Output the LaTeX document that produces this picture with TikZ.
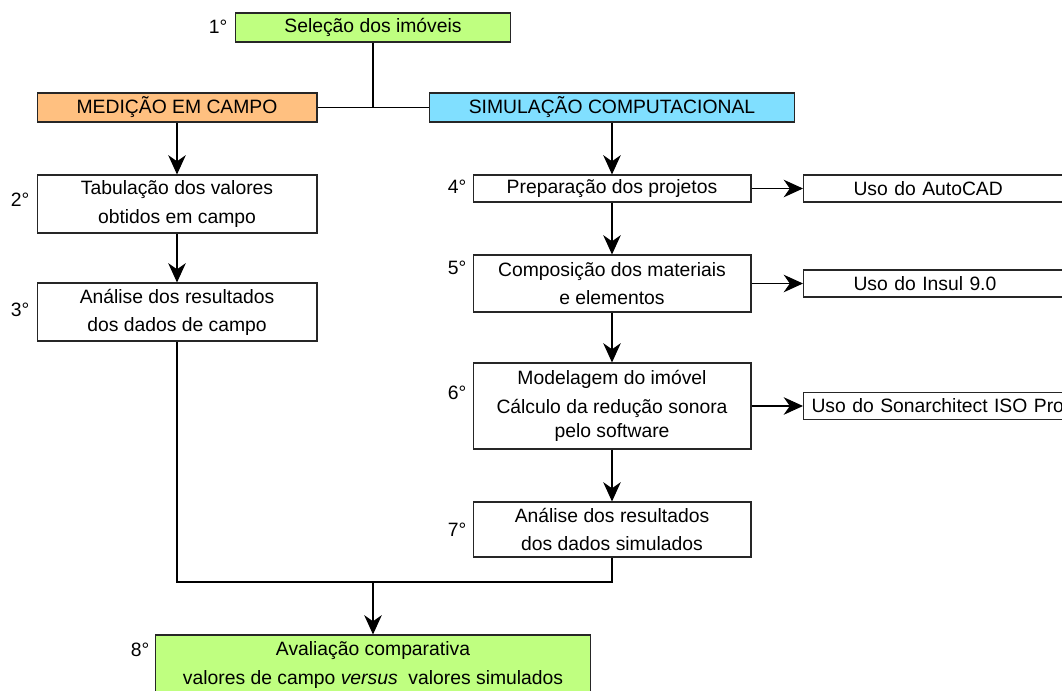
\documentclass[tikz,border=0pt]{standalone}
\usepackage{fontspec}
\setmainfont{Liberation Sans}
\usepackage{xcolor}
\usetikzlibrary{arrows.meta}
\definecolor{selgreen}{RGB}{191,255,128}
\definecolor{medorange}{RGB}{255,192,128}
\definecolor{simblue}{RGB}{128,223,255}
\begin{document}
\begin{tikzpicture}[x=0.02cm,y=-0.02cm,line width=0.6pt,
  font={\fontsize{11}{16}\selectfont},
  box/.style={draw=black!85,align=center,inner sep=0pt,minimum width=5.6cm},
  side/.style={draw=black!85,anchor=west,align=left,text width=6cm,inner xsep=1cm,inner ysep=0pt,minimum height=0.54cm},
  num/.style={inner sep=0pt},
  arr/.style={-{Stealth[length=11pt,width=10pt,inset=3.5pt]}}]
\useasboundingbox (0,0) rectangle (1062,690);
\clip (0,0) rectangle (1062,690);
% top of the tree
\node[box,fill=selgreen,minimum width=5.5cm,minimum height=0.58cm] (sel) at (373,27.5) {Seleção dos imóveis};
\node[box,fill=medorange,minimum height=0.58cm] (med) at (177,107.5) {MEDIÇÃO EM CAMPO};
\node[box,fill=simblue,minimum width=7.32cm,minimum height=0.58cm] (sim) at (612,107.5) {SIMULAÇÃO COMPUTACIONAL};
\draw (sel) -- (sel |- med.east);
\draw (med) -- (sim);
% field branch
\node[box,minimum height=1.16cm] (tab) at (177,204) {Tabulação dos valores\\obtidos em campo};
\node[box,minimum height=1.16cm] (ana) at (177,312) {Análise dos resultados\\dos dados de campo};
\draw[arr] (med) -- (tab);
\draw[arr] (tab) -- (ana);
% simulation branch
\node[box,minimum width=5.56cm,minimum height=0.54cm] (prep) at (612,188.5) {Preparação dos projetos};
\node[box,minimum width=5.56cm,minimum height=1.14cm] (comp) at (612,283.5) {Composição dos materiais\\e elementos};
\node[box,minimum width=5.56cm,minimum height=1.72cm,font={\fontsize{11}{13.5}\selectfont}] (mod) at (612,406) {Modelagem do imóvel\\[3pt]Cálculo da redução sonora\\pelo software};
\node[box,minimum width=5.56cm,minimum height=1.1cm] (res) at (612,529.5) {Análise dos resultados\\dos dados simulados};
\draw[arr] (sim) -- (prep);
\draw[arr] (prep) -- (comp);
\draw[arr] (comp) -- (mod);
\draw[arr] (mod) -- (res);
% software used
\node[side] (acad) at (803,188.5) {Uso do AutoCAD};
\node[side] (insul) at (803,283.5) {Uso do Insul 9.0};
\node[side,inner xsep=0.16cm] (sonar) at (803,406) {Uso do Sonarchitect ISO Pro};
\draw[arr] (prep) -- (acad);
\draw[arr] (comp) -- (insul);
\draw[arr] (mod) -- (sonar);
% comparison
\coordinate (j) at (373,582);
\node[box,fill=selgreen,minimum width=8.72cm,minimum height=1.2cm] (cmp) at (373,665) {Avaliação comparativa\\valores de campo \textit{versus}\ \ valores simulados};
\draw (ana) |- (j) -| (res);
\draw[arr] (j) -- (cmp);
% step numbers
\node[num] (n1) at (218,27) {1°};
\node[num] (n2) at (20,200) {2°};
\node[num] (n3) at (20,310) {3°};
\node[num] (n4) at (457,187) {4°};
\node[num] (n5) at (457,268) {5°};
\node[num] (n6) at (457,393) {6°};
\node[num] (n7) at (457,530) {7°};
\node[num] (n8) at (140,650) {8°};
\end{tikzpicture}
\end{document}
